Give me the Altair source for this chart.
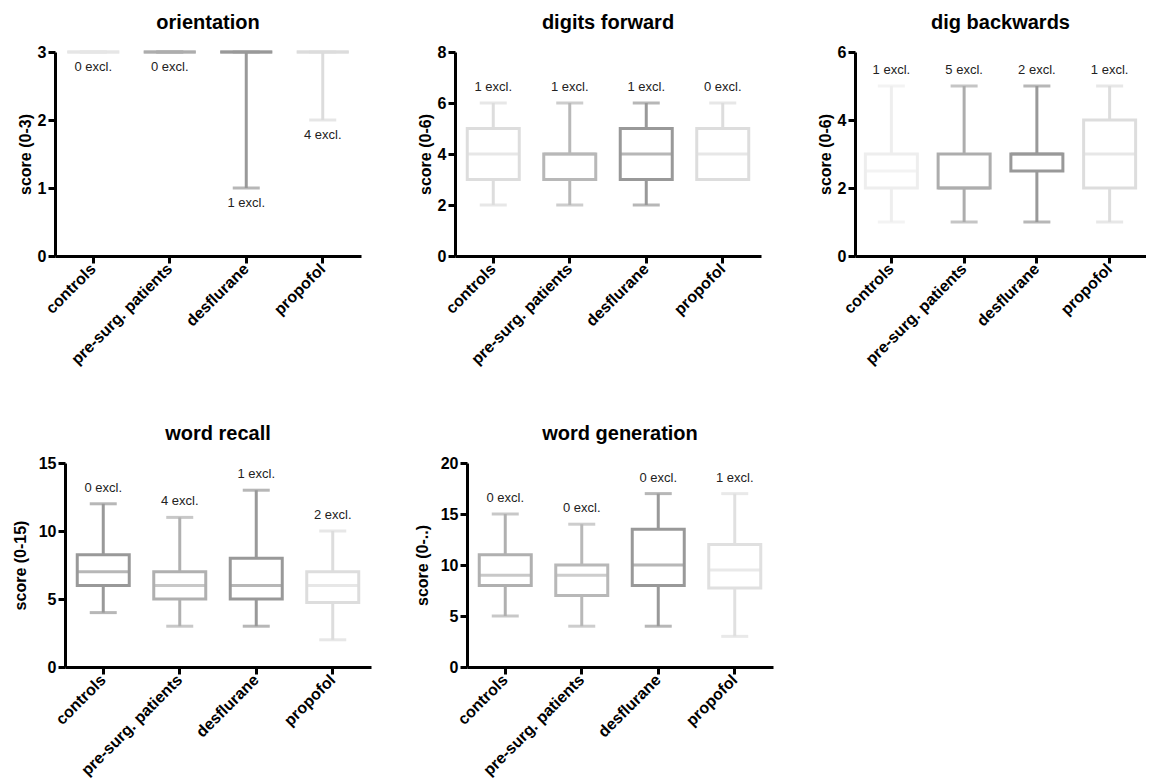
import altair as alt
import pandas as pd

groups = ["controls", "pre-surg. patients", "desflurane", "propofol"]

panel_titles = ["orientation", "digits forward", "dig backwards", "word recall", "word generation"]
y_titles = ["score (0-3)", "score (0-6)", "score (0-6)", "score (0-15)", "score (0-..)"]
y_max = [3, 8, 6, 15, 20]
y_step = [1, 2, 2, 5, 5]

# orientation
ori_min = [3, 3, 1, 2]
ori_q1 = [3, 3, 3, 3]
ori_med = [3, 3, 3, 3]
ori_q3 = [3, 3, 3, 3]
ori_max = [3, 3, 3, 3]
ori_excl = [0, 0, 1, 4]
ori_col = ["#e6e6e6", "#adadad", "#999999", "#dcdcdc"]

# digits forward
df_min = [2, 2, 2, 3]
df_q1 = [3, 3, 3, 3]
df_med = [4, 4, 4, 4]
df_q3 = [5, 4, 5, 5]
df_max = [6, 6, 6, 6]
df_excl = [1, 1, 1, 0]
df_col = ["#dddddd", "#b8b8b8", "#999999", "#dddddd"]

# dig backwards
db_min = [1, 1, 1, 1]
db_q1 = [2, 2, 2.5, 2]
db_med = [2.5, 2, 3, 3]
db_q3 = [3, 3, 3, 4]
db_max = [5, 5, 5, 5]
db_excl = [1, 5, 2, 1]
db_col = ["#eeeeee", "#adadad", "#999999", "#dddddd"]

# word recall
wr_min = [4, 3, 3, 2]
wr_q1 = [6, 5, 5, 4.75]
wr_med = [7, 6, 6, 6]
wr_q3 = [8.25, 7, 8, 7]
wr_max = [12, 11, 13, 10]
wr_excl = [0, 4, 1, 2]
wr_col = ["#999999", "#b0b0b0", "#999999", "#dddddd"]

# word generation
wg_min = [5, 4, 4, 3]
wg_q1 = [8, 7, 8, 7.75]
wg_med = [9, 9, 10, 9.5]
wg_q3 = [11, 10, 13.5, 12]
wg_max = [15, 14, 17, 17]
wg_excl = [0, 0, 0, 1]
wg_col = ["#b0b0b0", "#b8b8b8", "#999999", "#e0e0e0"]

stats = [
    (ori_min, ori_q1, ori_med, ori_q3, ori_max, ori_excl, ori_col),
    (df_min, df_q1, df_med, df_q3, df_max, df_excl, df_col),
    (db_min, db_q1, db_med, db_q3, db_max, db_excl, db_col),
    (wr_min, wr_q1, wr_med, wr_q3, wr_max, wr_excl, wr_col),
    (wg_min, wg_q1, wg_med, wg_q3, wg_max, wg_excl, wg_col),
]

FONT = "Liberation Sans"
H = 204
BOX_W = 52
CAP_W = 27


def panel(i, title_pad, width=306):
    mn, q1, med, q3, mx, ex, col = stats[i]
    d = pd.DataFrame({
        "group": groups, "min": mn, "q1": q1, "med": med, "q3": q3, "max": mx,
        "label": [f"{e} excl." for e in ex], "color": col,
    })
    x = alt.X("group:N", sort=groups, title=None,
              scale=alt.Scale(paddingInner=0, paddingOuter=0),
              axis=alt.Axis(labelAngle=-45, labelAlign="right", labelBaseline="middle",
                            labelPadding=3))
    y_axis = alt.Axis(values=list(range(0, y_max[i] + 1, y_step[i])), title=y_titles[i],
                      minExtent=0, titlePadding=title_pad)
    yscale = alt.Scale(domain=[0, y_max[i]], nice=False)
    base = alt.Chart(d)
    c = alt.Color("color:N", scale=None)
    whisk_lo = base.mark_rule(strokeWidth=3).encode(
        x=x, y=alt.Y("min:Q", scale=yscale, axis=y_axis), y2="q1:Q", color=c)
    whisk_hi = base.mark_rule(strokeWidth=3).encode(
        x=x, y=alt.Y("q3:Q", scale=yscale, axis=y_axis), y2="max:Q", color=c)
    box = base.mark_bar(size=BOX_W, fill="white", strokeWidth=3).encode(
        x=x, y=alt.Y("q1:Q", scale=yscale, axis=y_axis), y2="q3:Q",
        stroke=alt.Stroke("color:N", scale=None))
    cap_lo = base.mark_tick(size=CAP_W, thickness=3).encode(
        x=x, y=alt.Y("min:Q", scale=yscale, axis=y_axis), color=c)
    cap_hi = base.mark_tick(size=CAP_W, thickness=3).encode(
        x=x, y=alt.Y("max:Q", scale=yscale, axis=y_axis), color=c)
    median = base.mark_tick(size=BOX_W, thickness=3).encode(
        x=x, y=alt.Y("med:Q", scale=yscale, axis=y_axis), color=c)
    if i == 0:
        txt = base.mark_text(dy=15, font=FONT, fontSize=13, color="#222222").encode(
            x=x, y=alt.Y("min:Q", scale=yscale, axis=y_axis), text="label:N")
    else:
        txt = base.mark_text(dy=-16, font=FONT, fontSize=13, color="#222222").encode(
            x=x, y=alt.Y("max:Q", scale=yscale, axis=y_axis), text="label:N")
    return alt.layer(whisk_lo, whisk_hi, box, cap_lo, cap_hi, median, txt).properties(
        width=width, height=H, title=panel_titles[i])


top = alt.hconcat(panel(0, 4), panel(1, 4), panel(2, 4, width=291),
                  spacing=94, bounds="flush")

# an empty-width nested block that shifts the second row slightly to the right
shift = alt.hconcat(
    alt.Chart(pd.DataFrame({"v": [0]})).mark_point(opacity=0).encode(
        x=alt.X("v:Q", axis=None), y=alt.Y("v:Q", axis=None)
    ).properties(width=1, height=1),
    bounds="flush",
)
bottom_panels = alt.hconcat(panel(3, 10), panel(4, 10), spacing=96, bounds="flush")
bottom = alt.hconcat(shift, bottom_panels, spacing=10, bounds="flush")

chart = alt.vconcat(top, bottom, spacing=411, bounds="flush").properties(
    padding={"left": 4, "top": 5, "right": 0, "bottom": 0}).configure_view(
    stroke=None).configure_axis(
    grid=False, domainColor="black", domainWidth=3, tickColor="black", tickWidth=3,
    tickSize=7, labelFont=FONT, labelFontSize=16, labelFontWeight="bold", labelColor="black",
    titleFont=FONT, titleFontSize=16, titleFontWeight="bold", titleColor="black",
    labelPadding=2,
).configure_title(
    font=FONT, fontSize=20, fontWeight="bold", color="black", anchor="middle", offset=11
)

chart.save("out.html", embed_options={"renderer": "svg", "actions": False})
